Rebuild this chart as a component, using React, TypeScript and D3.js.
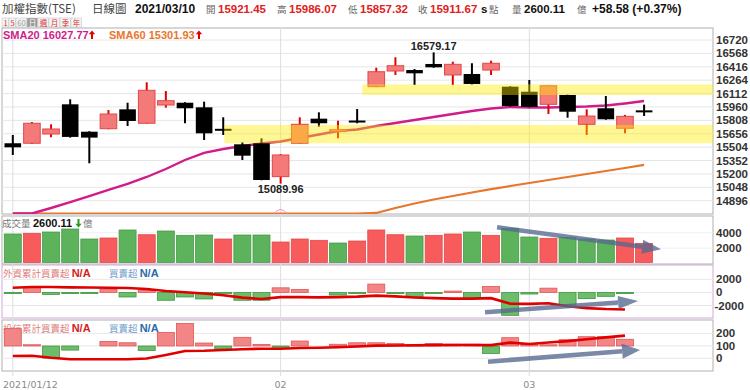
import React from 'react';
import * as d3 from 'd3';

// trading days shown on the chart
const dates = [
  '2021/01/12', '2021/01/13', '2021/01/14', '2021/01/15', '2021/01/18', '2021/01/19', '2021/01/20',
  '2021/01/21', '2021/01/22', '2021/01/25', '2021/01/26', '2021/01/27', '2021/01/28', '2021/01/29',
  '2021/02/01', '2021/02/02', '2021/02/03', '2021/02/04', '2021/02/05', '2021/02/17', '2021/02/18',
  '2021/02/19', '2021/02/22', '2021/02/23', '2021/02/24', '2021/02/25', '2021/02/26',
  '2021/03/02', '2021/03/03', '2021/03/04', '2021/03/05', '2021/03/08', '2021/03/09', '2021/03/10',
];

const open = [15548, 15548, 15653, 15990, 15679, 15713, 15933, 15775, 15982, 16008, 15956, 15712, 15536, 15548,
  15169, 15548, 15827, 15695, 15806, 16190, 16368, 16379, 16448, 16323, 16334, 16379, 16190,
  16133, 15990, 16096, 15763, 15945, 15718, 15921.45];
const high = [15642, 15789, 15763, 16047, 15685, 15925, 16008, 16240, 16141, 16014, 16020, 15843, 15559, 15604,
  15426, 15843, 15899, 15804, 15937, 16406, 16524, 16390, 16579.17, 16474, 16456, 16485, 16195,
  16266, 16205, 16100, 15933, 16084, 15870, 15986.07];
const low = [15415, 15540, 15616, 15612, 15321, 15707, 15744, 15770, 15952, 15775, 15585, 15642, 15358, 15128,
  15089.96, 15543, 15736, 15604, 15775, 16185, 16323, 16209, 16405, 16209, 16215, 16323, 15965,
  15955, 15880, 15838, 15642, 15815, 15661, 15857.32];
const close = [15502, 15775, 15710, 15620, 15612, 15880, 15801, 16149, 16031, 15945, 15661, 15705, 15407, 15131,
  15415, 15763, 15775, 15702, 15800, 16360, 16428, 16342, 16410, 16444, 16221, 16456, 15970,
  15960, 16201, 15906, 15857, 15820, 15853.09, 15911.67];
const prevClose = 15557;

const sma20 = [14680, 14745, 14813, 14881, 14949, 15018, 15086, 15165, 15256, 15358, 15438, 15483, 15517, 15545,
  15568, 15608, 15647, 15687, 15704, 15744, 15778, 15812, 15846, 15880, 15914, 15943, 15960,
  15954, 15954, 15960, 15965, 15977, 16000, 16027.77];
const sma60 = [14030, 14070, 14105, 14140, 14170, 14205, 14240, 14280, 14320, 14355, 14390, 14425, 14455, 14485,
  14515, 14560, 14610, 14660, 14705, 14757, 14813, 14864, 14910, 14949, 14989, 15028, 15063,
  15097, 15131, 15165, 15199, 15233, 15267, 15301.93];

// 成交量 (億)
const volume = [3830, 3920, 4090, 4480, 3180, 3310, 4350, 3740, 4220, 3660, 3700, 3180, 3700, 3700,
  2790, 3180, 3010, 2660, 2920, 4350, 3740, 3570, 3660, 3830, 4090, 3660, 4570,
  3440, 3270, 3400, 3180, 3050, 3310, 2600.11];

// 外資 買賣超 / 累計
const foreignNet = [-50, 820, -300, -150, -80, 500, -700, 350, -1200, -700, -1000, -200, -1200, -1200,
  700, 450, 0, -400, -150, 1270, -80, -700, -100, 200, -950, 900, -3500,
  -250, 650, -1900, -950, -600, -100];
const foreignCum = [712, 818, 818, 773, 742, 712, 667, 515, 212, 30, -167, -424, -803, -1000,
  -727, -727, -758, -727, -652, -500, -606, -773, -879, -955, -955, -879, -1712,
  -1758, -1667, -2121, -2394, -2545, -2621];

// 投信 買賣超 / 累計
const trustNet = [140, 10, -97, -33, 0, 37, 26, -37, 110, 181, 24, -23, 70, 12,
  -8, 40, 0, 14, 26, 26, 20, 8, 20, 15, 15, -60, 67,
  15, 10, 51, 75, 75, 54];
const trustCum = [19, 20, 4, -8, -8, -8, -8, -2, 27, 59, 61, 67, 73, 77,
  77, 83, 85, 89, 95, 102, 103, 105, 106, 107, 107, 106, 126,
  115, 127, 138, 153, 168, 182];

const priceTicks = [16720, 16568, 16416, 16264, 16112, 15960, 15808, 15656, 15504, 15352, 15200, 15048, 14896];
const volumeTicks = [4000, 2000];
const foreignTicks = [2000, 0, -2000];
const trustTicks = [200, 100, 0];
const monthTicks = [['2021/01/12', '2021/01/12'], ['2021/02/01', '02'], ['2021/03/02', '03']];

// highlighted support / resistance zones
const zones = [
  { from: '2021/01/27', lo: 15548, hi: 15755, pad: -1 },
  { from: '2021/02/17', lo: 16096, hi: 16217, pad: 14 },
];

const NUM = "'Liberation Sans', Arial, sans-serif";
const CJK = "'Noto Sans CJK TC', 'Noto Sans CJK SC', sans-serif";

const L = 2, R = 713;
const mainTop = 28, mainBot = 214;
const volTop = 216, volBot = 264;
const forTop = 265, forBot = 318;
const trTop = 320, trBot = 371;

const x = d3.scalePoint<string>().domain(dates).range([12.8, 644.1]);
const yP = d3.scaleLinear().domain([14896, 16720]).range([200.7, 40]);
const yV = d3.scaleLinear().domain([0, 4000]).range([263.5, 232.7]);
const yF = d3.scaleLinear().domain([-2000, 2000]).range([305.5, 279.3]);
const yTA = d3.scaleLinear().domain([0, 200]).range([358.3, 333.4]);
const yTB = d3.scaleLinear().domain([0, 100]).range([346, 333.6]);

const floorP = yP.invert(mainBot - 0.5);

const red = '#e00000';
const candleRed = '#f47a7a';

function arrow(x1: number, y1: number, x2: number, y2: number, len: number, half: number) {
  const a = Math.atan2(y2 - y1, x2 - x1);
  const bx = x2 - len * Math.cos(a), by = y2 - len * Math.sin(a);
  const px = -Math.sin(a) * half, py = Math.cos(a) * half;
  return (
    <g opacity={0.78}>
      <line x1={x1} y1={y1} x2={bx} y2={by} stroke="#56698f" strokeWidth={4.5} />
      <path d={`M${x2},${y2}L${bx + px},${by + py}L${bx - px},${by - py}Z`} fill="#56698f" />
    </g>
  );
}

// small filled up/down arrow used next to legend values
function miniArrow(ax: number, ay: number, up: boolean, color: string) {
  const s = up ? 1 : -1;
  return (
    <path d={`M${ax},${ay - 4.5 * s}L${ax + 3.2},${ay - 0.8 * s}L${ax + 1},${ay - 0.8 * s}L${ax + 1},${ay + 4 * s}` +
      `L${ax - 1},${ay + 4 * s}L${ax - 1},${ay - 0.8 * s}L${ax - 3.2},${ay - 0.8 * s}Z`} fill={color} />
  );
}

function NetBars({ values, y }: { values: number[]; y: d3.ScaleLinear<number, number> }) {
  return (
    <g>
      {values.map((v, i) => {
        if (v === 0) return null;
        const y0 = y(0), y1 = y(v);
        const top = Math.min(y0, y1);
        const h = Math.max(1.2, Math.abs(y1 - y0));
        return (
          <rect key={i} x={x(dates[i])! - 8.5} y={top} width={17} height={h}
            fill={v > 0 ? '#f28585' : '#6cbd6c'} stroke={v > 0 ? '#e05555' : '#3f963f'} strokeWidth={0.8} />
        );
      })}
    </g>
  );
}

export default function App() {
  const sLine = (vals: number[]) =>
    d3.line<number>().x((_, i) => x(dates[i])!).y(v => yP(Math.max(v, floorP)))(vals)!;
  const fLine = d3.line<number>().x((_, i) => x(dates[i])!).y(v => yF(v))(foreignCum)!;
  const tLine = d3.line<number>().x((_, i) => x(dates[i])!).y(v => yTA(v))(trustCum)!;

  const header: [string, number, string, boolean, string, number][] = [
    ['加權指數(TSE)', 2, '#444', false, CJK, 11.5],
    ['日線圖', 92, '#444', false, CJK, 11.5],
    ['2021/03/10', 135, '#111', true, NUM, 12],
    ['開', 206, '#666', false, CJK, 9.5],
    ['15921.45', 218, '#e02020', true, NUM, 11.5],
    ['高', 277, '#666', false, CJK, 9.5],
    ['15986.07', 289, '#e02020', true, NUM, 11.5],
    ['低', 348, '#666', false, CJK, 9.5],
    ['15857.32', 360, '#e02020', true, NUM, 11.5],
    ['收', 418, '#666', false, CJK, 9.5],
    ['15911.67', 430, '#e02020', true, NUM, 11.5],
    ['s', 481, '#111', true, NUM, 11.5],
    ['點', 489, '#666', false, CJK, 9.5],
    ['量', 512, '#666', false, CJK, 9.5],
    ['2600.11', 524, '#111', true, NUM, 11.5],
    ['億', 577, '#666', false, CJK, 9.5],
    ['+58.58 (+0.37%)', 592, '#111', true, NUM, 12],
  ];

  const buttons: [string, number, string, string][] = [
    ['1', 7, '#d33', '#f4f4f4'], ['5', 7, '#d33', '#f4f4f4'], ['60', 11, '#999', '#f4f4f4'],
    ['日', 11, '#fff', '#9a9a9a'], ['週', 11, '#d33', '#f4f4f4'], ['月', 11, '#d33', '#f4f4f4'],
    ['季', 11, '#d33', '#f4f4f4'], ['年', 11, '#d33', '#f4f4f4'],
  ];
  let bx = 2;

  return (
    <svg width={750} height={390} style={{ position: 'absolute', left: 0, top: 0, background: '#fff' }}>
      <defs>
        <clipPath id="mainClip"><rect x={L} y={mainTop} width={R - L} height={mainBot - mainTop} /></clipPath>
      </defs>

      {/* header */}
      {header.map(([t, hx, c, b, f, s], i) => (
        <text key={i} x={hx} y={13} fill={c} fontWeight={b ? 'bold' : 'normal'} fontFamily={f} fontSize={s}>{t}</text>
      ))}
      {buttons.map(([t, w, c, bg], i) => {
        const g = (
          <g key={i}>
            <rect x={bx} y={18} width={w - 0.5} height={9} fill={bg} stroke="#c8c8c8" strokeWidth={0.6} />
            <text x={bx + w / 2} y={25.5} textAnchor="middle" fontSize={7.5} fill={c} fontFamily={CJK}>{t}</text>
          </g>
        );
        bx += w;
        return g;
      })}

      {/* panel frames and grid */}
      <rect x={L} y={mainTop} width={R - L} height={mainBot - mainTop} fill="#fff" stroke="#b0b0b0" />
      {priceTicks.map(t => (
        <line key={t} x1={L} x2={R} y1={yP(t)} y2={yP(t)} stroke="#e6e6e6" />
      ))}
      <rect x={L} y={volTop} width={R - L} height={volBot - volTop} fill="#fff" stroke="#b0b0b0" />
      {volumeTicks.map(t => (
        <line key={t} x1={L} x2={R} y1={yV(t)} y2={yV(t)} stroke="#f0f0f0" />
      ))}
      <rect x={L} y={forTop} width={R - L} height={forBot - forTop} fill="#fff" stroke="#d2a6da" />
      {foreignTicks.map(t => (
        <line key={t} x1={L} x2={R} y1={yF(t)} y2={yF(t)} stroke="#e8e8e8" />
      ))}
      <rect x={L} y={trTop} width={R - L} height={trBot - trTop} fill="#fff" stroke="#b0b0b0" />
      {trustTicks.map(t => (
        <line key={t} x1={L} x2={R} y1={yTA(t)} y2={yTA(t)} stroke="#e8e8e8" />
      ))}
      {monthTicks.map(([d]) => (
        <line key={d} x1={x(d)} x2={x(d)} y1={mainTop} y2={trBot + 5} stroke="#dedede" />
      ))}

      {/* main price panel */}
      <g clipPath="url(#mainClip)">
        <path d={sLine(sma60)} fill="none" stroke="#e8762d" strokeWidth={2.2} />
        <path d={sLine(sma20)} fill="none" stroke="#d01c8b" strokeWidth={2.4} />
        <path d={`M${x(dates[14])! - 7},${mainBot}Q${x(dates[14])},${mainBot - 9} ${x(dates[14])! + 7},${mainBot}`}
          fill="none" stroke="#e58ab8" strokeWidth={0.9} />
        {dates.map((d, i) => {
          const up = close[i] >= open[i];
          const cx = x(d)!;
          const top = yP(Math.max(open[i], close[i]));
          const h = Math.max(2, yP(Math.min(open[i], close[i])) - top);
          return (
            <g key={d}>
              <line x1={cx} x2={cx} y1={yP(high[i])} y2={yP(low[i])} stroke={up ? red : '#000'} strokeWidth={2} />
              <rect x={cx - 8.3} y={top} width={16.6} height={h} fill={up ? candleRed : '#000'}
                stroke={up ? '#e04848' : '#000'} strokeWidth={up ? 1 : 0} />
            </g>
          );
        })}
        {zones.map(z => {
          const zx = x(z.from)! - z.pad;
          return <rect key={z.from} x={zx} y={yP(z.hi)} width={R - zx} height={yP(z.lo) - yP(z.hi)}
            fill="rgb(255,236,0)" opacity={0.42} />;
        })}
      </g>
      <text x={x(dates[14])} y={193} textAnchor="middle" fontFamily={NUM} fontWeight="bold" fontSize={11} fill="#222">15089.96</text>
      <text x={x(dates[22])} y={50} textAnchor="middle" fontFamily={NUM} fontWeight="bold" fontSize={11} fill="#222">16579.17</text>
      <text x={3} y={39} fontFamily={NUM} fontWeight="bold" fontSize={11} fill="#d01c8b">SMA20 16027.77</text>
      {miniArrow(92, 35, true, red)}
      <text x={109} y={39} fontFamily={NUM} fontWeight="bold" fontSize={11} fill="#e8762d">SMA60 15301.93</text>
      {miniArrow(199, 35, true, red)}
      {priceTicks.map(t => (
        <text key={t} x={716} y={yP(t)} dy="0.35em" fontFamily={NUM} fontWeight="bold" fontSize={11.5} fill="#333">{t}</text>
      ))}

      {/* volume */}
      <text x={2} y={227} fontFamily={CJK} fontSize={9.5} fill="#777">成交量</text>
      <text x={33} y={227} fontFamily={NUM} fontWeight="bold" fontSize={11} fill="#111">2600.11</text>
      {miniArrow(78.5, 223, false, '#2a9a2a')}
      <text x={83} y={227} fontFamily={CJK} fontSize={9.5} fill="#777">億</text>
      {volume.map((v, i) => {
        const up = close[i] >= (i ? close[i - 1] : prevClose);
        return (
          <rect key={i} x={x(dates[i])! - 8.5} y={yV(v)} width={17} height={yV(0) - yV(v) - 1}
            fill={up ? '#f75b5b' : '#5cb35c'} stroke={up ? '#e04a4a' : '#4a9a4a'} strokeWidth={0.8} />
        );
      })}
      {arrow(x(dates[25])! + 6, yV(4700), x(dates[33])! + 17, yV(1840), 19, 7)}
      {volumeTicks.map(t => (
        <text key={t} x={716} y={yV(t)} dy="0.35em" fontFamily={NUM} fontWeight="bold" fontSize={11.5} fill="#333">{t}</text>
      ))}

      {/* foreign investors */}
      <text x={3} y={277} fontFamily={CJK} fontSize={9.5} fill="#e07c7c">外資累計買賣超 <tspan fontFamily={NUM} fontWeight="bold" fontSize={11} fill="#d42020">N/A</tspan></text>
      <text x={109} y={277} fontFamily={CJK} fontSize={9.5} fill="#6f9ccc">買賣超 <tspan fontFamily={NUM} fontWeight="bold" fontSize={11} fill="#2a6aa8">N/A</tspan></text>
      <NetBars values={foreignNet} y={yF} />
      <path d={fLine} fill="none" stroke={red} strokeWidth={2.6} />
      {arrow(x(dates[25])! - 6, yF(-3040), x(dates[33])! - 6, yF(-1310), 20, 6.5)}
      {foreignTicks.map(t => (
        <text key={t} x={t < 0 ? 714.5 : 716} y={yF(t)} dy="0.35em" fontFamily={NUM} fontWeight="bold" fontSize={11.5} fill="#333">{t}</text>
      ))}

      {/* investment trust */}
      <text x={3} y={332} fontFamily={CJK} fontSize={9.5} fill="#e07c7c">投信累計買賣超 <tspan fontFamily={NUM} fontWeight="bold" fontSize={11} fill="#d42020">N/A</tspan></text>
      <text x={109} y={332} fontFamily={CJK} fontSize={9.5} fill="#6f9ccc">買賣超 <tspan fontFamily={NUM} fontWeight="bold" fontSize={11} fill="#2a6aa8">N/A</tspan></text>
      <NetBars values={trustNet} y={yTB} />
      <path d={tLine} fill="none" stroke={red} strokeWidth={2.6} />
      {arrow(x(dates[25])! - 3, yTA(-27), x(dates[33])! - 4, yTA(67), 18, 7.5)}
      {trustTicks.map(t => (
        <text key={t} x={716} y={yTA(t)} dy="0.35em" fontFamily={NUM} fontWeight="bold" fontSize={11.5} fill="#333">{t}</text>
      ))}

      {/* date axis */}
      {monthTicks.map(([d, label], i) => (
        <text key={d} x={i === 0 ? 3 : x(d)} y={388} textAnchor={i === 0 ? 'start' : 'middle'}
          fontFamily="'DejaVu Sans', sans-serif" fontSize={9.5} fill="#8a8a8a">{label}</text>
      ))}
    </svg>
  );
}
